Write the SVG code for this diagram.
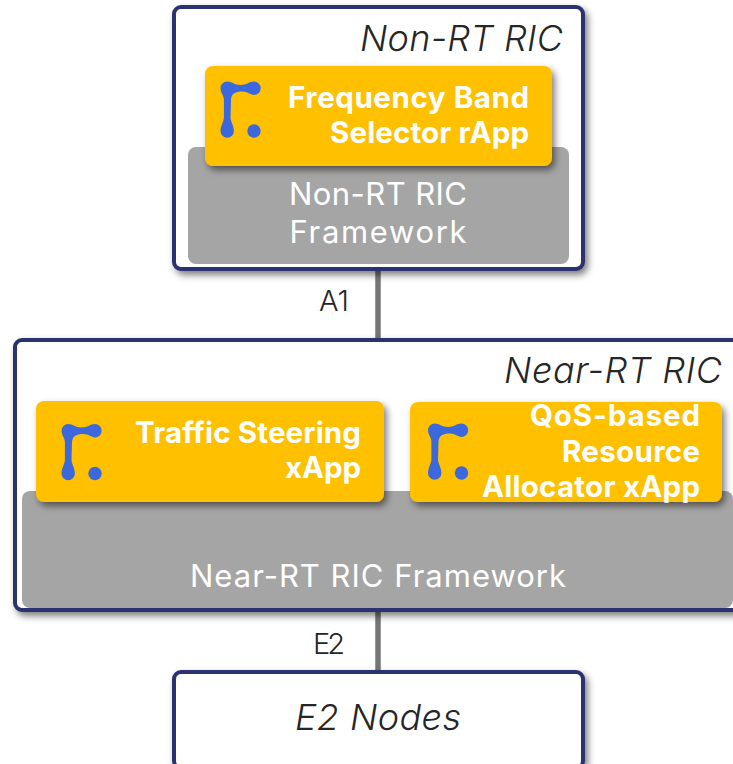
<svg xmlns="http://www.w3.org/2000/svg" width="733" height="764" viewBox="0 0 733 764">
<style>
.box{fill:#fff;stroke:#2b3270;stroke-width:4;filter:url(#s)}
.grey{fill:#a5a5a5}
.yel{fill:#ffc000;filter:url(#s)}
text{font-family:"Inter","Open Sans",sans-serif}
.t{fill:#262626;font-style:italic;font-size:36px;font-weight:300;text-anchor:end}
.w{fill:#fff;font-size:31px;font-weight:400;text-anchor:middle}
.b{fill:#fff;font-size:29.500px;font-weight:700;text-anchor:end}
.l{fill:#262626;font-size:29px;font-weight:300;text-anchor:middle}
.c{stroke:#767676;stroke-width:5.500;fill:none}
</style>
<defs>
<filter id="s" x="-10%" y="-10%" width="120%" height="125%"><feDropShadow dx="3" dy="4" stdDeviation="3.500" flood-color="#000" flood-opacity=".5"/></filter>
<symbol id="logo" overflow="visible" viewBox="0 0 47 57" width="47" height="57"><path fill="#3b68dc" d="M6.700 0C11 0 14 3.500 20 3.500C26 3.500 29 0 33.500 0A6.700 6.700 0 0 1 33.500 13.400C29.500 13.400 27 10 22 10C15 10 11 12 10.500 18L10 36C10 40 13.400 44 13.400 49.500A6.700 6.700 0 0 1 0 49.500C0 44 3.400 40 3.400 36L3.400 18C3.400 14 0 11 0 6.700A6.700 6.700 0 0 1 6.700 0Z"/><circle cx="33.500" cy="49.500" r="6.700" fill="#3b68dc"/></symbol>
</defs>
<g id="connectors"><path class="c" d="M378 269V340"/><path class="c" d="M378 610V672"/></g>
<text class="l" x="334" y="311" textLength="30">A1</text>
<text class="l" x="329" y="654" textLength="32">E2</text>
<g id="non-rt-ric"><rect class="box" x="174" y="7" width="409" height="262" rx="7"/><text class="t" x="563" y="51" textLength="203">Non-RT RIC</text></g>
<g id="non-rt-framework"><rect class="grey" x="188" y="147" width="381" height="117" rx="8"/><text class="w" x="378" y="205" textLength="178">Non-RT RIC</text><text class="w" x="378" y="243" textLength="177">Framework</text></g>
<g id="freq-rapp"><rect class="yel" x="205" y="66" width="347" height="100" rx="8"/><use href="#logo" x="220.500" y="81.500"/><text class="b" x="529" y="108" textLength="241">Frequency Band</text><text class="b" x="529" y="143" textLength="199">Selector rApp</text></g>
<g id="near-rt-ric"><rect class="box" x="15" y="340" width="730" height="270" rx="7"/><text class="t" x="722" y="383" textLength="218">Near-RT RIC</text></g>
<g id="near-rt-framework"><rect class="grey" x="22" y="491" width="711" height="117" rx="8"/><text class="w" x="378" y="587" textLength="376">Near-RT RIC Framework</text></g>
<g id="ts-xapp"><rect class="yel" x="36" y="401" width="348" height="101" rx="8"/><use href="#logo" x="61.500" y="424"/><text class="b" x="361" y="443" textLength="226">Traffic Steering</text><text class="b" x="361" y="478" textLength="76">xApp</text></g>
<g id="qos-xapp"><rect class="yel" x="410" y="402" width="312" height="100" rx="8"/><use href="#logo" x="428" y="423.500"/><text class="b" x="700" y="426" textLength="170">QoS-based</text><text class="b" x="700" y="461.500" textLength="138">Resource</text><text class="b" x="700" y="496.500" textLength="218">Allocator xApp</text></g>
<g id="e2-nodes"><rect class="box" x="174" y="672" width="409" height="96" rx="7"/><text class="t" x="378" y="730" style="text-anchor:middle" textLength="166">E2 Nodes</text></g>
</svg>
